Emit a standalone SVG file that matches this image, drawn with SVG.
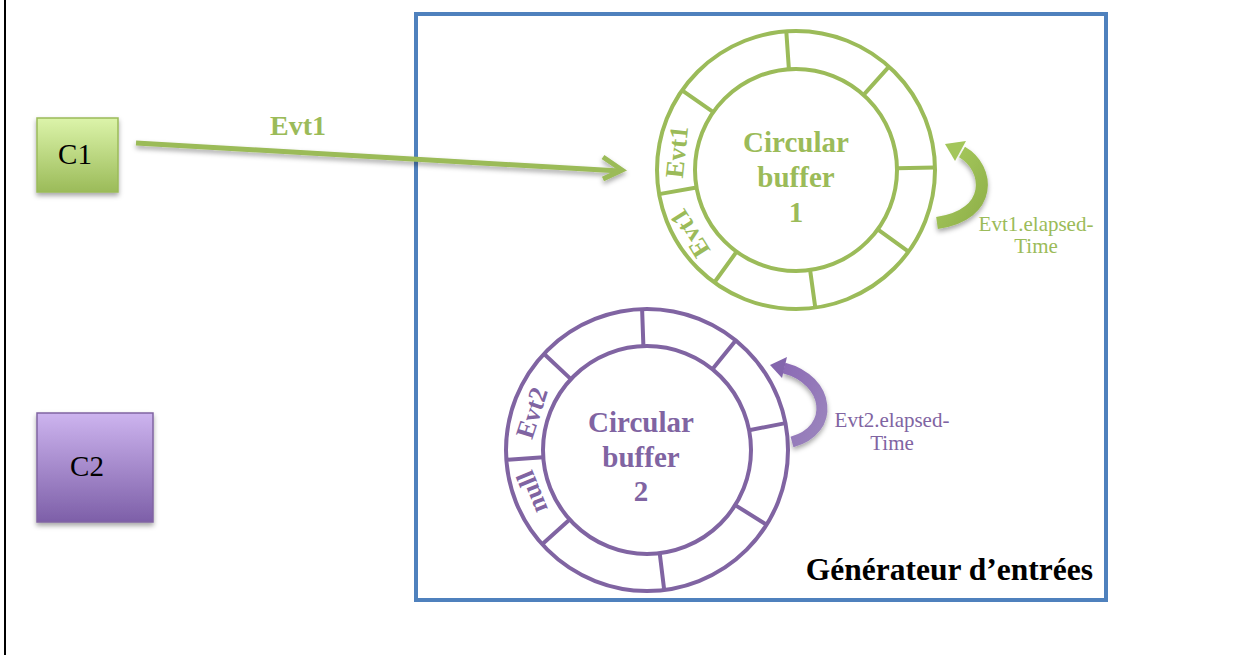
<svg xmlns="http://www.w3.org/2000/svg" width="1233" height="655" viewBox="0 0 1233 655">
<style>
.g{stroke:#9BBB59;fill:none;stroke-width:4}
.p{stroke:#8064A2;fill:none;stroke-width:4}
.gt{fill:#9BBB59;font-family:"Liberation Serif",serif;font-weight:bold}
.pt{fill:#8064A2;font-family:"Liberation Serif",serif;font-weight:bold}
.ring{font-size:26px;text-anchor:middle;dominant-baseline:central}
.ctr{font-size:29px;text-anchor:middle}
.lbl{font-family:"Liberation Serif",serif;font-size:21px;text-anchor:middle}
.box{font-family:"Liberation Serif",serif;font-size:29px;text-anchor:middle;fill:#000}
</style>
<defs>
<linearGradient id="gg" x1="0" y1="0" x2="0" y2="1"><stop offset="0" stop-color="#dcf4aa"/><stop offset="1" stop-color="#9BBB59"/></linearGradient>
<linearGradient id="pg" x1="0" y1="0" x2="0" y2="1"><stop offset="0" stop-color="#cdb4ef"/><stop offset="1" stop-color="#7d5fa8"/></linearGradient>
<linearGradient id="ga" x1="0" y1="0" x2="1" y2="1"><stop offset="0" stop-color="#a9cc5e"/><stop offset="1" stop-color="#8fb04a"/></linearGradient>
<linearGradient id="pa" x1="0" y1="0" x2="1" y2="1"><stop offset="0" stop-color="#8c6bb5"/><stop offset="1" stop-color="#9b85bd"/></linearGradient>
<filter id="sh" x="-20%" y="-20%" width="150%" height="150%"><feDropShadow dx="0" dy="3" stdDeviation="2.5" flood-color="#000" flood-opacity="0.35"/></filter>
</defs>
<rect width="1233" height="655" fill="#fff"/>
<line x1="5" y1="0" x2="5" y2="655" stroke="#000" stroke-width="2"/>

<g id="frame">
<rect x="416" y="14" width="690" height="586" fill="none" stroke="#4F81BD" stroke-width="4"/>
<text x="1093" y="580" text-anchor="end" font-family="'Liberation Serif',serif" font-weight="bold" font-size="31.5" fill="#000">Générateur d’entrées</text>
</g>

<g id="C1">
<rect x="37" y="118" width="81" height="74" fill="url(#gg)" stroke="#9BBB59" stroke-width="1.5" filter="url(#sh)"/>
<text class="box" x="75" y="164">C1</text>
</g>

<g id="C2">
<rect x="37" y="413" width="116" height="109" fill="url(#pg)" stroke="#8064A2" stroke-width="1.5" filter="url(#sh)"/>
<text class="box" x="87" y="476">C2</text>
</g>

<g id="buffer1">
<circle class="g" cx="796" cy="170" r="139"/>
<circle class="g" cx="796" cy="170" r="101"/>
<path class="g" d="M788.9,69.2L786.3,31.3M863.6,94.9L889,66.7M897,168.2L935,167.6M877.7,229.4L908.5,251.7M810.1,270L815.3,307.7M736.6,251.7L714.3,282.5M696.5,187.5L659.1,194.1M713.3,112.1L682.1,90.3"/>
<text class="gt ring" transform="translate(677,152) rotate(-84)">Evt1</text>
<text class="gt ring" transform="translate(690,233) rotate(-122)">Evt1</text>
<text class="gt ctr" x="796" y="152">Circular</text>
<text class="gt ctr" x="796" y="187">buffer</text>
<text class="gt ctr" x="796" y="222">1</text>
</g>

<g id="buffer2">
<circle class="p" cx="647" cy="450" r="141"/>
<circle class="p" cx="647" cy="450" r="104"/>
<path class="p" d="M643.4,346.1L642.1,309.1M712.4,369.2L735.7,340.4M749.1,430.2L785.4,423.1M735.2,505.1L766.6,524.7M659.7,553.2L664.2,589.9M569.7,519.6L542.2,544.3M543.3,457.3L506.3,459.8M570.9,379.1L543.9,353.8"/>
<text class="pt ring" transform="translate(532,413) rotate(-72)">Evt2</text>
<text class="pt ring" transform="translate(532,492) rotate(-112)" font-size="28">null</text>
<text class="pt ctr" x="641" y="432">Circular</text>
<text class="pt ctr" x="641" y="467">buffer</text>
<text class="pt ctr" x="641" y="501">2</text>
</g>

<g id="loop1">
<path d="M962,152 C990,168 994,215 937,223" fill="none" stroke="url(#ga)" stroke-width="12" filter="url(#sh)"/>
<polygon points="945,144 966,141 955,161" fill="#a3c65b"/>
<text class="lbl" x="1036" y="231" fill="#9BBB59">Evt1.elapsed-</text>
<text class="lbl" x="1036" y="253" fill="#9BBB59">Time</text>
</g>

<g id="loop2">
<path d="M784,368 C830,380 836,430 792,442" fill="none" stroke="url(#pa)" stroke-width="11" filter="url(#sh)"/>
<polygon points="770,365 787,357 782,378" fill="#8466ad"/>
<text class="lbl" x="892" y="427" fill="#8064A2">Evt2.elapsed-</text>
<text class="lbl" x="892" y="450" fill="#8064A2">Time</text>
</g>

<g id="connectors">
<g filter="url(#sh)">
<line x1="136" y1="143" x2="620" y2="171" stroke="#9BBB59" stroke-width="5"/>
<path d="M603,157 L622,170 L603,179" fill="none" stroke="#9BBB59" stroke-width="5" stroke-linejoin="miter"/>
</g>
<text class="gt" x="298" y="135" font-size="28" text-anchor="middle">Evt1</text>
</g>
</svg>
